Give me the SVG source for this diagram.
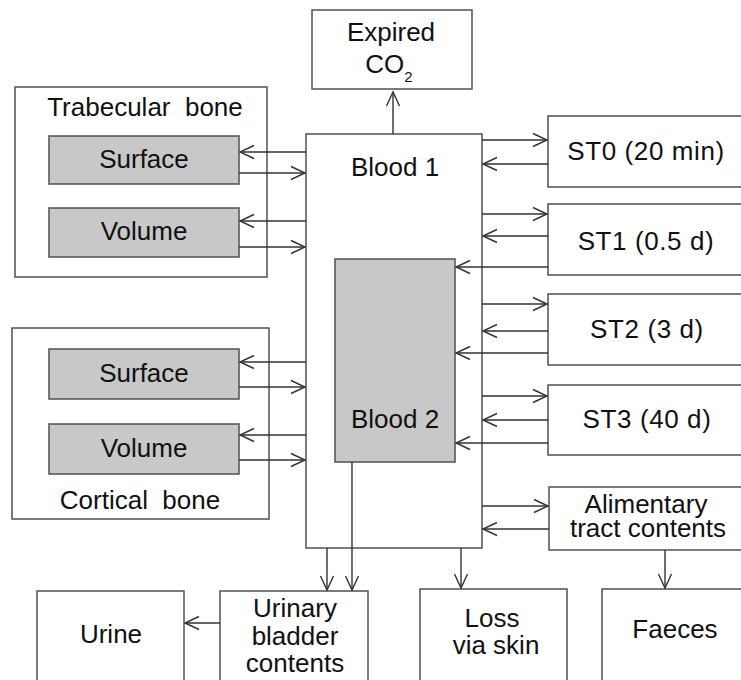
<svg xmlns="http://www.w3.org/2000/svg" width="741" height="680" viewBox="0 0 741 680">
  <style>
    .box { fill: #ffffff; stroke: #505050; stroke-width: 1.5; }
    .sub { fill: #c8c8c8; stroke: #505050; stroke-width: 1.5; }
    .lbl { font-family: "Liberation Sans", Arial, sans-serif; font-size: 26px; fill: #111111; text-anchor: middle; }
    .wide { letter-spacing: 0.6px; }
    .small { font-size: 15px; }
    .flow { fill: none; stroke: #333333; stroke-width: 1.4; marker-end: url(#open); }
  </style>
  <defs>
    <marker id="open" viewBox="-16 -8 18 16" refX="0" refY="0" markerWidth="18" markerHeight="16" markerUnits="userSpaceOnUse" orient="auto">
      <path d="M-14,-6.5 L0,0 L-14,6.5" fill="none" stroke="#333333" stroke-width="1.4"/>
    </marker>
  </defs>
  <rect width="741" height="680" fill="#ffffff"/>

  <!-- compartments -->
  <g id="expired-co2">
    <rect class="box" x="312" y="10" width="160" height="79"/>
    <text class="lbl" x="391" y="41">Expired</text>
    <text class="lbl" x="389" y="73">CO<tspan class="small" dy="9">2</tspan></text>
  </g>

  <g id="trabecular-bone">
    <rect class="box" x="15" y="87" width="252" height="190"/>
    <text class="lbl" x="145" y="116" xml:space="preserve">Trabecular  bone</text>
  </g>
  <g id="trabecular-surface">
    <rect class="sub" x="49" y="136" width="190" height="48"/>
    <text class="lbl" x="144" y="168">Surface</text>
  </g>
  <g id="trabecular-volume">
    <rect class="sub" x="49" y="208" width="190" height="49"/>
    <text class="lbl" x="144" y="240">Volume</text>
  </g>

  <g id="cortical-bone">
    <rect class="box" x="12" y="328" width="257" height="191"/>
    <text class="lbl" x="140" y="509" xml:space="preserve">Cortical  bone</text>
  </g>
  <g id="cortical-surface">
    <rect class="sub" x="49" y="349" width="190" height="50"/>
    <text class="lbl" x="144" y="382">Surface</text>
  </g>
  <g id="cortical-volume">
    <rect class="sub" x="49" y="424" width="190" height="50"/>
    <text class="lbl" x="144" y="457">Volume</text>
  </g>

  <g id="blood-1">
    <rect class="box" x="306" y="134" width="176" height="414"/>
    <text class="lbl" x="395" y="176">Blood 1</text>
  </g>
  <g id="blood-2">
    <rect class="sub" x="335" y="259" width="120" height="203"/>
    <text class="lbl" x="395" y="428">Blood 2</text>
  </g>

  <g id="st0">
    <rect class="box" x="548" y="116" width="200" height="71"/>
    <text class="lbl wide" x="646" y="160">ST0 (20 min)</text>
  </g>
  <g id="st1">
    <rect class="box" x="548" y="204" width="200" height="71"/>
    <text class="lbl wide" x="646" y="250">ST1 (0.5 d)</text>
  </g>
  <g id="st2">
    <rect class="box" x="548" y="294" width="200" height="71"/>
    <text class="lbl wide" x="647" y="338">ST2 (3 d)</text>
  </g>
  <g id="st3">
    <rect class="box" x="548" y="385" width="200" height="70"/>
    <text class="lbl wide" x="647" y="428">ST3 (40 d)</text>
  </g>
  <g id="alimentary-tract">
    <rect class="box" x="549" y="487" width="200" height="63"/>
    <text class="lbl" x="646" y="513">Alimentary</text>
    <text class="lbl" x="648" y="537">tract contents</text>
  </g>

  <g id="urine">
    <rect class="box" x="37" y="591" width="147" height="100"/>
    <text class="lbl" x="111" y="643">Urine</text>
  </g>
  <g id="urinary-bladder">
    <rect class="box" x="220" y="591" width="148" height="100"/>
    <text class="lbl" x="295" y="617">Urinary</text>
    <text class="lbl" x="295" y="645">bladder</text>
    <text class="lbl" x="295" y="672">contents</text>
  </g>
  <g id="loss-via-skin">
    <rect class="box" x="420" y="589" width="147" height="100"/>
    <text class="lbl" x="492" y="627">Loss</text>
    <text class="lbl" x="496" y="654">via skin</text>
  </g>
  <g id="faeces">
    <rect class="box" x="602" y="589" width="150" height="100"/>
    <text class="lbl" x="675" y="638">Faeces</text>
  </g>

  <!-- transfers -->
  <g id="connectors">
    <!-- blood to exhaled air -->
    <line class="flow" x1="393" y1="134" x2="393" y2="92"/>
    <!-- trabecular bone exchange -->
    <line class="flow" x1="306" y1="152" x2="240" y2="152"/>
    <line class="flow" x1="239" y1="173" x2="305" y2="173"/>
    <line class="flow" x1="306" y1="221" x2="240" y2="221"/>
    <line class="flow" x1="239" y1="247" x2="305" y2="247"/>
    <!-- cortical bone exchange -->
    <line class="flow" x1="306" y1="362" x2="240" y2="362"/>
    <line class="flow" x1="239" y1="387" x2="305" y2="387"/>
    <line class="flow" x1="306" y1="435" x2="240" y2="435"/>
    <line class="flow" x1="239" y1="460" x2="305" y2="460"/>
    <!-- soft tissue ST0 -->
    <line class="flow" x1="482" y1="140" x2="547" y2="140"/>
    <line class="flow" x1="548" y1="164" x2="483" y2="164"/>
    <!-- soft tissue ST1 -->
    <line class="flow" x1="482" y1="214" x2="547" y2="214"/>
    <line class="flow" x1="548" y1="236" x2="483" y2="236"/>
    <line class="flow" x1="548" y1="267" x2="456" y2="267"/>
    <!-- soft tissue ST2 -->
    <line class="flow" x1="482" y1="304" x2="547" y2="304"/>
    <line class="flow" x1="548" y1="331" x2="483" y2="331"/>
    <line class="flow" x1="548" y1="353" x2="456" y2="353"/>
    <!-- soft tissue ST3 -->
    <line class="flow" x1="482" y1="396" x2="547" y2="396"/>
    <line class="flow" x1="548" y1="420" x2="483" y2="420"/>
    <line class="flow" x1="548" y1="443" x2="456" y2="443"/>
    <!-- alimentary tract -->
    <line class="flow" x1="482" y1="506" x2="548" y2="506"/>
    <line class="flow" x1="549" y1="529" x2="483" y2="529"/>
    <line class="flow" x1="665" y1="550" x2="665" y2="588"/>
    <!-- excretion -->
    <line class="flow" x1="327" y1="548" x2="327" y2="590"/>
    <line class="flow" x1="352" y1="462" x2="352" y2="590"/>
    <line class="flow" x1="461" y1="548" x2="461" y2="588"/>
    <line class="flow" x1="220" y1="623" x2="185" y2="623"/>
  </g>
</svg>
